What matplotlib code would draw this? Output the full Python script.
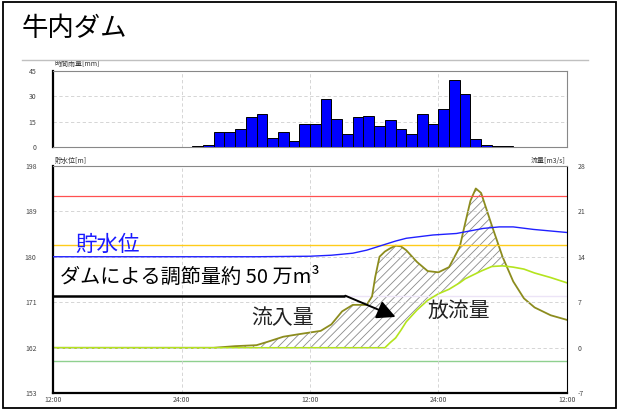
import numpy as np
import matplotlib
matplotlib.use("Agg")
import matplotlib.pyplot as plt
from matplotlib.patches import Rectangle
from matplotlib.lines import Line2D

plt.rcParams['font.family'] = ['Noto Sans CJK JP', 'DejaVu Sans']
plt.rcParams['hatch.linewidth'] = 0.6
plt.rcParams['hatch.color'] = '#8a8a8a'
plt.rcParams['axes.unicode_minus'] = False

# 時間雨量 (時刻は 12:00 からの経過時間)
rain_hours = list(range(13, 43))
rain = [0.6, 1.4, 8.8, 8.8, 10.6, 17.6, 19.8, 5.6, 8.8, 3.4, 13.6, 13.6, 28.4, 16.6, 7.6,
        17.6, 18.6, 12.6, 15.8, 10.6, 7.6, 19.8, 13.6, 22.6, 39.4, 31.6, 4.6, 1.4, 0.6, 0.6]

# 流入量・放流量 [m3/s]
flow_hours = [0, 15, 17, 19, 20, 21.5, 23, 25, 26, 27, 28, 29.3, 29.8, 30.1, 30.5, 31, 31.5,
              32, 32.5, 33, 34, 35, 36, 37, 38, 38.5, 39, 39.5, 40, 41, 42, 43, 44, 45, 46.5, 48]
inflow = [0, 0, 0.25, 0.4, 0.9, 1.7, 2.1, 2.6, 3.6, 5.6, 6.6, 6.6, 7.9, 10.9, 14.0, 14.8, 15.3,
          15.7, 15.6, 15.0, 13.2, 11.8, 11.6, 12.4, 15.5, 19.1, 22.6, 24.5, 23.8, 18.8, 14.0,
          10.2, 7.6, 6.2, 5.0, 4.3]
outflow = [0, 0, 0, 0, 0, 0, 0, 0, 0, 0, 0, 0, 0, 0, 0, 0, 0.8,
           1.5, 2.7, 4.0, 5.8, 7.3, 8.3, 9.0, 10.0, 10.6, 11.0, 11.4, 11.8, 12.5, 12.6,
           12.4, 12.1, 11.5, 10.8, 10.0]

# 貯水位 [m]
level_hours = [0, 19, 24, 26, 28, 29.3, 30.8, 32, 33, 35.5, 37.7, 40.2, 41.7, 43, 44.9, 48]
level = [180, 180, 180.1, 180.3, 180.7, 181.3, 182.3, 183.1, 183.65, 184.3, 184.6, 185.6,
         185.9, 185.9, 185.4, 184.8]

# 基準線
red_level = 192.0
yellow_level = 182.4
green_flow = -2.0
lavender_flow = 8.0

xtick_pos = [0, 12, 24, 36, 48]
xtick_labels = ['12:00', '24:00', '12:00', '24:00', '12:00']
rain_ticks = [0, 15, 30, 45]
level_ticks = [153, 162, 171, 180, 189, 198]
flow_ticks = [-7, 0, 7, 14, 21, 28]

# 注記の矢印 (時間, 貯水位)
arrow_start = (0, 172.3)
arrow_bend = (27.3, 172.3)
arrow_tip = (32.0, 168.1)

W, H = 618, 411
fig = plt.figure(figsize=(W / 100, H / 100), dpi=100)

tick_color = '#444444'
grid_kw = dict(color='#cfcfcf', linestyle=(0, (4, 3)), linewidth=0.6)

# --- 雨量 ---
ax_r = fig.add_axes([53.3 / W, 1 - 147 / H, 513.4 / W, 76 / H])
ax_r.bar(rain_hours, rain, width=1.0, align='edge', color='#0000ff',
         edgecolor='black', linewidth=0.7, zorder=3)
ax_r.set_xlim(0, 48)
ax_r.set_ylim(0, 45)
ax_r.set_xticks(xtick_pos)
ax_r.set_xticklabels([])
ax_r.set_yticks(rain_ticks)
ax_r.tick_params(length=0, labelsize=5, colors=tick_color, pad=12)
ax_r.grid(True, **grid_kw)
for s in ['top', 'right', 'bottom']:
    ax_r.spines[s].set_color('#888888')
    ax_r.spines[s].set_linewidth(0.8)
ax_r.spines['left'].set_linewidth(1.6)
ax_r.text(0.003, 1.04, '時間雨量[mm]', transform=ax_r.transAxes, fontsize=5,
          color='#333333', va='bottom')

# --- 貯水位・流量 ---
ax = fig.add_axes([53.3 / W, 1 - 393.3 / H, 513.4 / W, 227.6 / H])
ax.set_xlim(0, 48)
ax.set_ylim(153, 198)
ax.set_xticks(xtick_pos)
ax.set_xticklabels(xtick_labels)
ax.set_yticks(level_ticks)
ax.tick_params(length=0, labelsize=5, colors=tick_color, pad=12)
ax.tick_params(axis='x', pad=2)
ax.grid(True, **grid_kw)
ax.spines['left'].set_linewidth(1.6)
ax.spines['bottom'].set_linewidth(1.6)
ax.spines['top'].set_color('#888888')
ax.spines['top'].set_linewidth(0.8)
ax.spines['right'].set_linewidth(0.8)

ax2 = ax.twinx()
ax2.set_ylim(-7, 28)
ax2.set_yticks(flow_ticks)
ax2.tick_params(length=0, labelsize=5, colors=tick_color, pad=8)
for s in ax2.spines.values():
    s.set_visible(False)

# 貯水位の軸を前面に
ax.set_zorder(ax2.get_zorder() + 1)
ax.patch.set_visible(False)

fh = np.array(flow_hours)
qin = np.array(inflow)
qout = np.array(outflow)
ax2.axhline(green_flow, color='#8fd08f', lw=1.0)
ax2.axhline(lavender_flow, xmin=0.55, color='#ece4f7', lw=1.0)
ax2.fill_between(fh, qout, qin, where=qin >= qout, interpolate=True,
                 facecolor='white', edgecolor='#8a8a8a', hatch='////', linewidth=0)
ax2.plot(fh, qin, color='#8c8c1e', lw=1.3)
ax2.plot(fh, qout, color='#b4e41e', lw=1.2)

ax.axhline(red_level, color='#ff5050', lw=0.9, zorder=2)
ax.axhline(yellow_level, color='#ffcc1a', lw=1.0, zorder=2)
ax.plot(level_hours, level, color='#2020ff', lw=1.0, zorder=4)

ax.text(0.003, 1.005, '貯水位[m]', transform=ax.transAxes, fontsize=5,
        color='#333333', va='bottom')
ax.text(0.997, 1.005, '流量[m3/s]', transform=ax.transAxes, fontsize=5,
        color='#333333', va='bottom', ha='right')

# 注記
ax.plot([arrow_start[0], arrow_bend[0]], [arrow_start[1], arrow_bend[1]],
        color='black', lw=1.8, zorder=6, clip_on=False, solid_capstyle='butt')
ax.annotate('', xy=arrow_tip, xytext=arrow_bend, zorder=6,
            arrowprops=dict(arrowstyle='-|>', color='black', lw=1.4,
                            mutation_scale=28, shrinkA=0, shrinkB=0))

ax.text(0.105, 0.652, '貯水位', transform=ax.transAxes, fontsize=15.5,
        color='#1a1aff', ha='center', va='center', zorder=7)
ax.text(0.013, 0.511, 'ダムによる調節量約 50 万m³', transform=ax.transAxes,
        fontsize=14.5, color='black', ha='left', va='center', zorder=7)
ax.text(0.447, 0.331, '流入量', transform=ax.transAxes, fontsize=15,
        color='#222222', ha='center', va='center', zorder=7)
ax.text(0.790, 0.362, '放流量', transform=ax.transAxes, fontsize=15,
        color='#222222', ha='center', va='center', zorder=7)

# タイトルと枠
fig.text(22 / W, 1 - 28 / H, '牛内ダム', fontsize=19, va='center', ha='left')
fig.add_artist(Line2D([22 / W, 588 / W], [1 - 60 / H, 1 - 60 / H],
                      color='#c0c0c0', lw=1.0))
fig.add_artist(Rectangle((3 / W, 3 / H), 613 / W, 406 / H, transform=fig.transFigure,
                         fill=False, edgecolor='black', lw=1.3))

fig.savefig('out.png', dpi=100)
